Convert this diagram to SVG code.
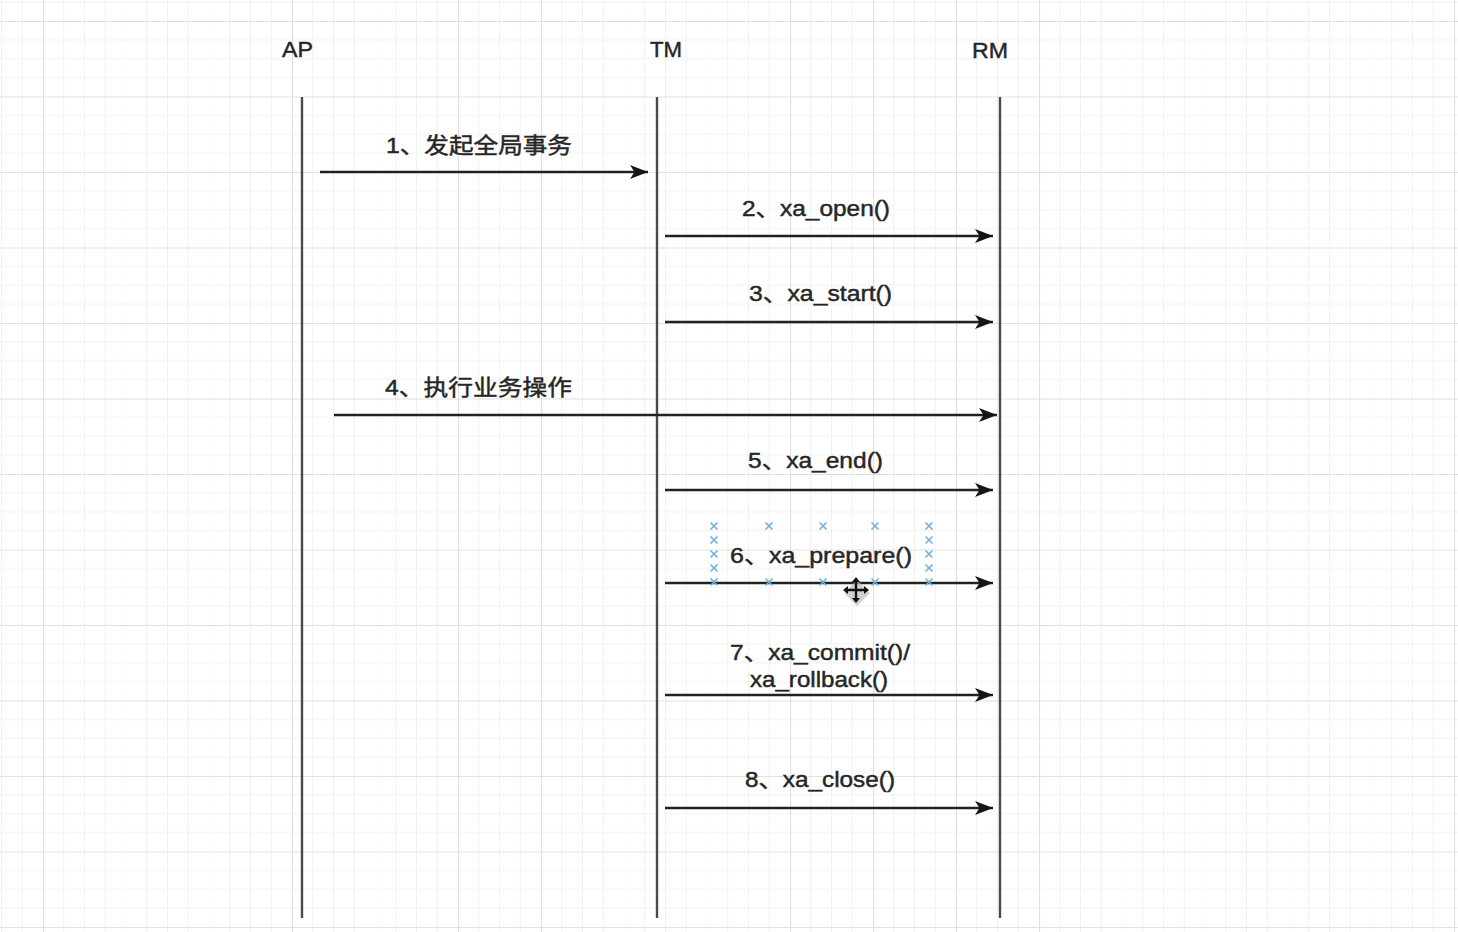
<svg xmlns="http://www.w3.org/2000/svg" width="1458" height="932" viewBox="0 0 1458 932">
  <style>
    .lbl { font-family: "Liberation Sans", "Noto Sans CJK SC", sans-serif; font-size: 22px; fill: #262626; stroke: #262626; stroke-width: 0.45px; }
    .life { stroke: #4a4a4a; stroke-width: 2.4; fill: none; }
    .msg { stroke: #222; stroke-width: 2.4; fill: none; marker-end: url(#arrow); }
    .sel { stroke: #6ab2dc; stroke-width: 1.6; fill: none; }
  </style>
  <defs>
    <pattern id="grid" x="43" y="21" width="83" height="75.5" patternUnits="userSpaceOnUse">
      <path d="M20.75 0V75.5M41.5 0V75.5M62.25 0V75.5M0 18.875H83M0 37.75H83M0 56.625H83" stroke="#f1f1f1" stroke-width="1"/>
      <path d="M0.5 0V75.5M0 0.5H83" stroke="#e0e0e0" stroke-width="1.2"/>
    </pattern>
    <marker id="arrow" markerUnits="userSpaceOnUse" markerWidth="20" markerHeight="16" refX="18" refY="8" orient="auto">
      <path d="M0 1L18 8L0 15L4.5 8Z" fill="#161616"/>
    </marker>
    <path id="x" d="M-3.5 -3.5L3.5 3.5M-3.5 3.5L3.5 -3.5"/>
  </defs>

  <rect width="1458" height="932" fill="#fff"/>
  <rect width="1458" height="932" fill="url(#grid)"/>

  <!-- participants -->
  <g id="ap">
    <text class="lbl" x="282" y="57" textLength="31" lengthAdjust="spacingAndGlyphs">AP</text>
    <line class="life" x1="302" y1="97" x2="302" y2="918"/>
  </g>
  <g id="tm">
    <text class="lbl" x="650" y="57" textLength="32" lengthAdjust="spacingAndGlyphs">TM</text>
    <line class="life" x1="657" y1="97" x2="657" y2="918"/>
  </g>
  <g id="rm">
    <text class="lbl" x="972" y="58" textLength="36" lengthAdjust="spacingAndGlyphs">RM</text>
    <line class="life" x1="1000" y1="97" x2="1000" y2="918"/>
  </g>

  <!-- messages -->
  <g id="connectors">
    <line class="msg" x1="320" y1="172" x2="648" y2="172"/>
    <line class="msg" x1="665" y1="236" x2="993" y2="236"/>
    <line class="msg" x1="665" y1="322" x2="993" y2="322"/>
    <line class="msg" x1="334" y1="415" x2="997" y2="415"/>
    <line class="msg" x1="665" y1="490" x2="993" y2="490"/>
    <line class="msg" x1="665" y1="583" x2="993" y2="583"/>
    <line class="msg" x1="665" y1="695" x2="993" y2="695"/>
    <line class="msg" x1="665" y1="808" x2="993" y2="808"/>
  </g>

  <g id="labels">
    <text class="lbl" x="386" y="153" textLength="186" lengthAdjust="spacingAndGlyphs">1、发起全局事务</text>
    <text class="lbl" x="742" y="216" textLength="148" lengthAdjust="spacingAndGlyphs">2、xa_open()</text>
    <text class="lbl" x="749" y="301" textLength="143" lengthAdjust="spacingAndGlyphs">3、xa_start()</text>
    <text class="lbl" x="385" y="395" textLength="187" lengthAdjust="spacingAndGlyphs">4、执行业务操作</text>
    <text class="lbl" x="748" y="468" textLength="135" lengthAdjust="spacingAndGlyphs">5、xa_end()</text>
    <text class="lbl" x="730" y="563" textLength="182" lengthAdjust="spacingAndGlyphs">6、xa_prepare()</text>
    <text class="lbl" x="730" y="660" textLength="180" lengthAdjust="spacingAndGlyphs">7、xa_commit()/</text>
    <text class="lbl" x="750" y="687" textLength="138" lengthAdjust="spacingAndGlyphs">xa_rollback()</text>
    <text class="lbl" x="745" y="787" textLength="150" lengthAdjust="spacingAndGlyphs">8、xa_close()</text>
  </g>

  <!-- selection handles around label 6 -->
  <g id="selection" class="sel">
    <use href="#x" x="714" y="526"/><use href="#x" x="714" y="540"/><use href="#x" x="714" y="554"/><use href="#x" x="714" y="568"/><use href="#x" x="714" y="582"/>
    <use href="#x" x="769" y="526"/><use href="#x" x="769" y="582"/>
    <use href="#x" x="823" y="526"/><use href="#x" x="823" y="582"/>
    <use href="#x" x="875" y="526"/><use href="#x" x="875" y="582"/>
    <use href="#x" x="929" y="526"/><use href="#x" x="929" y="540"/><use href="#x" x="929" y="554"/><use href="#x" x="929" y="568"/><use href="#x" x="929" y="582"/>
  </g>

  <!-- move cursor -->
  <g id="cursor" transform="translate(856,590)">
    <path d="M0 -16L13 -3L0 10L-13 -3Z" fill="#bdbdbd" opacity="0.7" transform="translate(1,6)"/>
    <path d="M0 -11V11M-11 0H11" stroke="#111" stroke-width="2.4"/>
    <path d="M0 -13L-4 -8H4Z M0 13L-4 8H4Z M-13 0L-8 -4V4Z M13 0L8 -4V4Z" fill="#111"/>
  </g>
</svg>
